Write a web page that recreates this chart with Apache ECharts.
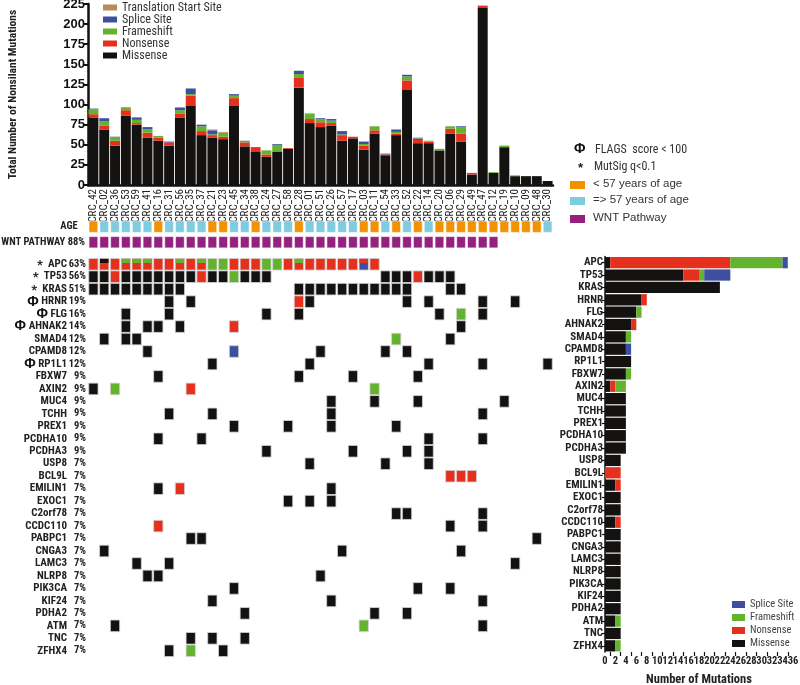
<!DOCTYPE html>
<html><head><meta charset="utf-8">
<script src="https://cdn.jsdelivr.net/npm/echarts@6/dist/echarts.min.js"></script>
<style>html,body{margin:0;padding:0;background:#fff}#c{width:800px;height:685px}</style>
</head><body><div id="c"></div>
<script>
// ---------- data ----------
const samples = ['CRC_42','CRC_02','CRC_36','CRC_53','CRC_59','CRC_41','CRC_16','CRC_31','CRC_56','CRC_35','CRC_37','CRC_21','CRC_23','CRC_45','CRC_34','CRC_38','CRC_24','CRC_27','CRC_58','CRC_28','CRC_01','CRC_51','CRC_26','CRC_57','CRC_17','CRC_03','CRC_11','CRC_54','CRC_33','CRC_52','CRC_22','CRC_14','CRC_20','CRC_06','CRC_29','CRC_49','CRC_47','CRC_12','CRC_19','CRC_10','CRC_09','CRC_48','CRC_30'];
const sampleMissense   = [84,69,49,86,75,59,55,49,84,99,62,59,57,99,48,41,35,41,45,121,77,72,74,55,58,44,64,37,62,118,52,52,43,64,54,13,220,15,47,11,11,11,5];
const sampleNonsense   = [4,5,6,7,2,6,4,4,5,12,5,3,3,9,5,5,3,1,1,12,5,6,3,7,2,5,4,1,2,12,4,2,0,6,10,2,3,0,0,0,0,0,0];
const sampleFrameshift = [6,5,4,3,4,4,2,0,4,2,6,1,5,3,1,0,5,8,0,5,7,4,3,1,0,2,5,0,2,5,0,1,2,3,8,0,0,1,2,1,0,0,0];
const sampleSplice     = [1,4,1,0,3,3,0,1,3,7,2,5,0,2,1,1,0,1,0,4,0,1,2,4,0,3,0,1,3,2,2,0,0,0,1,0,0,0,0,0,0,0,0];
const sampleTSS        = [0,0,0,1,0,0,0,0,1,0,0,1,1,0,0,0,0,0,0,0,0,0,0,0,0,0,0,0,0,0,1,0,0,0,0,0,0,0,0,0,0,0,0];
const yTicksTop = [0,225,25];

const ageUnder57 = [1,0,0,0,0,0,1,0,0,0,0,1,1,0,0,1,0,0,0,1,0,0,0,0,0,1,1,0,1,0,1,0,1,1,1,1,1,1,1,1,1,1,0];
const wntPathway = [1,1,1,1,1,1,1,1,1,1,1,1,1,1,1,1,1,1,1,1,1,1,1,1,1,1,1,1,1,1,1,1,1,1,1,1,1,1,0,0,0,0,0];
const annotRows = ['AGE','WNT PATHWAY 88%'];

const genes = ['APC','TP53','KRAS','HRNR','FLG','AHNAK2','SMAD4','CPAMD8','RP1L1','FBXW7','AXIN2','MUC4','TCHH','PREX1','PCDHA10','PCDHA3','USP8','BCL9L','EMILIN1','EXOC1','C2orf78','CCDC110','PABPC1','CNGA3','LAMC3','NLRP8','PIK3CA','KIF24','PDHA2','ATM','TNC','ZFHX4'];
const genePct = ['63%','56%','51%','19%','16%','14%','12%','12%','12%','9%','9%','9%','9%','9%','9%','9%','7%','7%','7%','7%','7%','7%','7%','7%','7%','7%','7%','7%','7%','7%','7%','7%'];
const geneFlag = ['*','*','*','Φ','Φ','Φ','','','Φ','','','','','','','','','','','','','','','','','','','','','','',''];

const geneMissense   = [1,15,22,7,6,5,4,4,5,4,1,4,4,4,4,4,3,0,2,3,3,2,3,3,3,3,3,3,3,2,3,2];
const geneNonsense   = [23,3,0,1,0,1,0,0,0,0,1,0,0,0,0,0,0,3,1,0,0,1,0,0,0,0,0,0,0,0,0,0];
const geneFrameshift = [10,1,0,0,1,0,1,0,0,1,2,0,0,0,0,0,0,0,0,0,0,0,0,0,0,0,0,0,0,1,0,1];
const geneSplice     = [1,5,0,0,0,0,0,1,0,0,0,0,0,0,0,0,0,0,0,0,0,0,0,0,0,0,0,0,0,0,0,0];
const xTicksRight = [0,36,2];

// oncoprint: sample column indices per gene and mutation type
const oncoMissense = {
  TP53:[0,1,3,4,5,6,7,8,9,11,12,14,15,16,27,28,29,31,32,33],
  KRAS:[0,1,2,3,4,5,6,7,8,19,20,21,22,23,24,25,26,27,28,29,33,34],
  HRNR:[7,9,20,29,31,36,39], FLG:[3,7,16,19,32,36], AHNAK2:[3,5,6,8,34],
  SMAD4:[1,3,4,33], CPAMD8:[5,21,27,29], RP1L1:[11,20,31,36,42], FBXW7:[6,19,24,30],
  AXIN2:[0], MUC4:[22,26,30,38], TCHH:[7,11,22,36], PREX1:[13,18,22,28],
  PCDHA10:[6,10,31,36], PCDHA3:[16,24,29,31], USP8:[20,27,31], EMILIN1:[6,22],
  EXOC1:[18,20,22], C2orf78:[28,29,36], CCDC110:[33,36], PABPC1:[9,10,41],
  CNGA3:[1,23,34], LAMC3:[4,7,39], NLRP8:[5,6,21], PIK3CA:[13,30,33],
  KIF24:[11,22,36], PDHA2:[14,26,29], ATM:[2,36], TNC:[9,11,14], ZFHX4:[7,12]
};
const oncoNonsense = {
  APC:[0,1,2,3,4,5,6,7,8,9,10,13,14,15,18,19,20,21,22,23,24,26],
  TP53:[2,10,30], HRNR:[19], AHNAK2:[13], AXIN2:[9], BCL9L:[33,34,35], EMILIN1:[8], CCDC110:[6]
};
const oncoFrameshift = { APC:[11,12,16,17], TP53:[13], FLG:[34], SMAD4:[28], AXIN2:[2,26], ATM:[25], ZFHX4:[9] };
const oncoSplice = { APC:[25], CPAMD8:[13] };
// second mutation shown as a top stripe in the same cell
const oncoTopStripe = [['APC',1,'Missense'],['APC',3,'Frameshift'],['APC',4,'Frameshift'],['APC',5,'Frameshift'],['APC',8,'Frameshift'],['APC',10,'Frameshift'],['APC',19,'Frameshift'],['APC',25,'Nonsense']];

// ---------- fonts ----------
function hasFont(f){
  const c = document.createElement('canvas').getContext('2d');
  const t = 'PCDHA10 abcdefWMil';
  c.font = "20px monospace"; const a = c.measureText(t).width;
  c.font = "20px '"+f+"', monospace"; const b = c.measureText(t).width;
  return Math.abs(a-b) > 0.5;
}
const narrowCandidates = ['Liberation Sans Narrow','Arial Narrow','Roboto Condensed','DejaVu Sans Condensed'];
let narrowFamily = null;
for (const f of narrowCandidates){ if (hasFont(f)) { narrowFamily = f; break; } }
const NARROW = narrowFamily ? "'"+narrowFamily+"'" : "'Liberation Sans',Arial,sans-serif";
const NK = narrowFamily === 'DejaVu Sans Condensed' ? 0.86 : (narrowFamily ? 1 : 0.84);
const fs = n => Math.round(n*NK*10)/10;
const SANS = "'Liberation Sans',Arial,sans-serif";

// ---------- styling ----------
const COL = {'Missense':'#141210','Nonsense':'#e5301d','Frameshift':'#64b32e','Splice Site':'#3f4f9f','Translation Start Site':'#b88a5c'};
const AGE_COL = ['#7fcce0','#f39200'];
const WNT_COL = '#95217f';

const cells = [];
function addCells(obj, type){
  Object.keys(obj).forEach(g => obj[g].forEach(c => {
    const top = oncoTopStripe.find(t => t[0]===g && t[1]===c);
    cells.push([c, genes.indexOf(g), type, top ? top[2] : '']);
  }));
}
addCells(oncoMissense,'Missense'); addCells(oncoNonsense,'Nonsense');
addCells(oncoFrameshift,'Frameshift'); addCells(oncoSplice,'Splice Site');

const annotCells = [];
ageUnder57.forEach((v,i)=>annotCells.push([i,0,AGE_COL[v]]));
wntPathway.forEach((v,i)=>{ if(v) annotCells.push([i,1,WNT_COL]); });

function cellRender(params, api){
  const d = cells[params.dataIndex];
  const p = api.coord([api.value(0), api.value(1)]);
  const s = api.size([1,1]);
  const w = s[0]*0.86, h = s[1]*0.93;
  const x0 = p[0]-w/2, y0 = p[1]-h/2;
  const ch = [{type:'rect', shape:{x:x0,y:y0,width:w,height:h}, style:{fill:COL[d[2]], stroke:'#d4d4d4', lineWidth:0.8}}];
  if (d[3]) ch.push({type:'rect', shape:{x:x0+0.4,y:y0+0.4,width:w-0.8,height:h*0.36}, style:{fill:COL[d[3]]}});
  return {type:'group', children:ch};
}
function annotRender(params, api){
  const d = annotCells[params.dataIndex];
  const p = api.coord([api.value(0), api.value(1)]);
  const s = api.size([1,1]);
  const w = s[0]*0.8, h = 11.2;
  return {type:'rect', shape:{x:p[0]-w/2,y:p[1]-h/2,width:w,height:h}, style:{fill:d[2], stroke:'rgba(255,255,255,0.6)', lineWidth:0.8}};
}

const topNames = ['Missense','Nonsense','Frameshift','Splice Site','Translation Start Site'];
const topVals = [sampleMissense, sampleNonsense, sampleFrameshift, sampleSplice, sampleTSS];
const rightNames = ['Missense','Nonsense','Frameshift','Splice Site'];
const rightVals = [geneMissense, geneNonsense, geneFrameshift, geneSplice];

const series = [];
topNames.forEach((n,i)=>series.push({
  name:n, type:'bar', stack:'top', xAxisIndex:0, yAxisIndex:0, barCategoryGap:'8%',
  itemStyle:{color:COL[n]}, data:topVals[i], silent:true
}));
series.push({type:'custom', xAxisIndex:1, yAxisIndex:1, renderItem:annotRender, data:annotCells.map(d=>[d[0],d[1]]), silent:true});
series.push({type:'custom', xAxisIndex:2, yAxisIndex:2, renderItem:cellRender, data:cells.map(d=>[d[0],d[1]]), silent:true});
rightNames.forEach((n,i)=>series.push({
  name:n, type:'bar', stack:'right', xAxisIndex:3, yAxisIndex:4, barCategoryGap:'9%',
  itemStyle:{color:COL[n]}, data:rightVals[i], silent:true
}));

const gridBase = {outerBoundsMode:'none', containLabel:false};
const option = {
  animation:false,
  backgroundColor:'#fff',
  textStyle:{fontFamily:SANS},
  grid:[
    Object.assign({left:88, top:4, width:465, height:181}, gridBase),
    Object.assign({left:88, top:219, width:465, height:31}, gridBase),
    Object.assign({left:88, top:258, width:465, height:399}, gridBase),
    Object.assign({left:605, top:256.5, width:188, height:395.5}, gridBase)
  ],
  legend:[
    {data:['Translation Start Site','Splice Site','Frameshift','Nonsense','Missense'], orient:'vertical', left:103, top:1.5, padding:0,
     itemWidth:14, itemHeight:6, itemGap:0, icon:'rect', selectedMode:false,
     textStyle:{fontFamily:NARROW, fontSize:fs(12), lineHeight:11.2, color:'#333'}},
    {data:['Splice Site','Frameshift','Nonsense','Missense'], orient:'vertical', left:732, top:598, padding:0,
     itemWidth:13, itemHeight:7, itemGap:0, icon:'rect', selectedMode:false,
     textStyle:{fontFamily:NARROW, fontSize:fs(10.5), lineHeight:13, color:'#444'}}
  ],
  xAxis:[
    {type:'category', gridIndex:0, data:samples,
     axisLine:{lineStyle:{color:'#111', width:2.5}},
     axisTick:{interval:0, length:4, lineStyle:{color:'#111', width:1.5}},
     axisLabel:{interval:0, rotate:90, margin:4, fontFamily:NARROW, fontSize:fs(11), color:'#222'}},
    {type:'category', gridIndex:1, data:samples, show:false},
    {type:'category', gridIndex:2, data:samples, show:false},
    {type:'value', gridIndex:3, min:xTicksRight[0], max:xTicksRight[1], interval:xTicksRight[2],
     name:'Number of Mutations', nameLocation:'middle', nameGap:21,
     nameTextStyle:{fontFamily:NARROW, fontWeight:'bold', fontSize:fs(12.5), color:'#222'},
     axisLine:{lineStyle:{color:'#111', width:2}},
     axisTick:{length:4, lineStyle:{color:'#111', width:1.2}},
     minorTick:{show:true, splitNumber:2, length:4, lineStyle:{color:'#111', width:1.2}},
     splitLine:{show:false},
     axisLabel:{margin:4, showMinLabel:true, showMaxLabel:true, hideOverlap:false, fontFamily:NARROW, fontWeight:'bold', fontSize:fs(10.5), color:'#222'}}
  ],
  yAxis:[
    {type:'value', gridIndex:0, min:yTicksTop[0], max:yTicksTop[1], interval:yTicksTop[2],
     name:'Total Number of Nonsilant Mutations', nameLocation:'middle', nameGap:69,
     nameTextStyle:{fontFamily:NARROW, fontWeight:'bold', fontSize:fs(11.5), color:'#222'},
     axisLine:{show:true, lineStyle:{color:'#111', width:2.5}},
     axisTick:{show:true, length:4, lineStyle:{color:'#111', width:2}},
     splitLine:{show:false},
     axisLabel:{margin:3, fontFamily:SANS, fontWeight:'bold', fontSize:13, color:'#111'}},
    {type:'category', gridIndex:1, data:annotRows, inverse:true,
     axisLine:{show:false}, axisTick:{show:false},
     axisLabel:{margin:3, fontFamily:NARROW, fontWeight:'bold', fontSize:fs(10.5), color:'#222',
       formatter:v=> v==='AGE' ? 'AGE   ' : v}},
    {type:'category', gridIndex:2, data:genes, inverse:true, position:'left', offset:0,
     axisLine:{show:false}, axisTick:{show:false},
     axisLabel:{interval:0, margin:2, fontFamily:NARROW, fontWeight:'bold', fontSize:fs(10.5), color:'#222',
       formatter:(v,i)=>genePct[i]}},
    {type:'category', gridIndex:2, data:genes, inverse:true, position:'left', offset:19,
     axisLine:{show:false}, axisTick:{show:false},
     axisLabel:{interval:0, margin:2, fontFamily:NARROW, fontWeight:'bold', fontSize:fs(11), color:'#222',
       formatter:(v,i)=>{ const f=geneFlag[i]; return f==='*' ? '{s|*}  '+v : f==='Φ' ? '{p|Φ} '+v : v; },
       rich:{s:{fontSize:13, fontWeight:'bold', color:'#222', padding:[3,0,0,0]}, p:{fontSize:14, fontWeight:'bold', color:'#111', fontFamily:SANS}}}},
    {type:'category', gridIndex:3, data:genes, inverse:true,
     axisLine:{show:true, lineStyle:{color:'#111', width:1.5}},
     axisTick:{show:true, alignWithLabel:true, length:3, lineStyle:{color:'#111', width:1.2}},
     axisLabel:{interval:0, margin:2, fontFamily:NARROW, fontWeight:'bold', fontSize:fs(11), color:'#222'}}
  ],
  graphic:[
    {type:'text', left:574, top:142, style:{text:'Φ', font:"bold 14px 'Liberation Sans',Arial", fill:'#111'}},
    {type:'text', left:595, top:144, style:{text:'FLAGS  score < 100', font:fs(12)+"px "+NARROW, fill:'#333'}},
    {type:'text', left:578, top:162, style:{text:'*', font:"bold 13px 'Liberation Sans'", fill:'#222'}},
    {type:'text', left:594, top:161, style:{text:'MutSig q<0.1', font:fs(12)+"px "+NARROW, fill:'#333'}},
    {type:'rect', left:570, top:181, shape:{width:15, height:8}, style:{fill:AGE_COL[1]}},
    {type:'text', left:593, top:178, style:{text:'< 57 years of age', font:"11.5px "+SANS, fill:'#333'}},
    {type:'rect', left:570, top:197, shape:{width:15, height:8}, style:{fill:AGE_COL[0]}},
    {type:'text', left:593, top:194, style:{text:'=> 57 years of age', font:"11.5px "+SANS, fill:'#333'}},
    {type:'rect', left:570, top:215, shape:{width:15, height:8}, style:{fill:WNT_COL}},
    {type:'text', left:593, top:212, style:{text:'WNT Pathway', font:"11.5px "+SANS, fill:'#333'}}
  ],
  series
};
const chart = echarts.init(document.getElementById('c'), null, {renderer:'canvas'});
chart.setOption(option);
</script></body></html>
